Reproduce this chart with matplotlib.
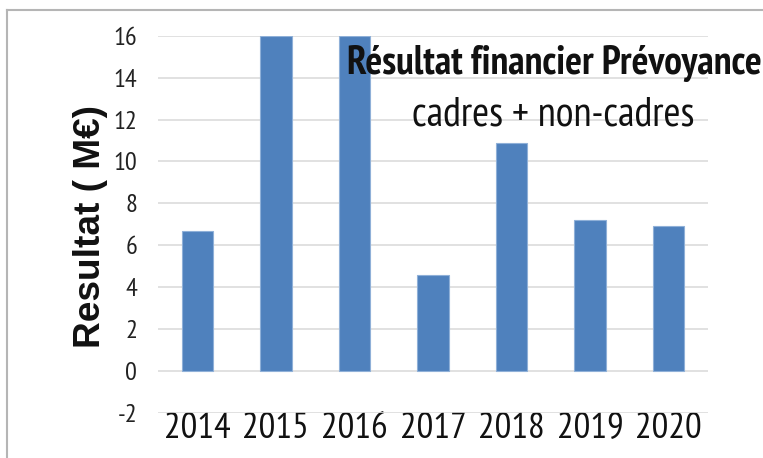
import matplotlib
matplotlib.use("Agg")
import matplotlib.pyplot as plt
from matplotlib.lines import Line2D
from matplotlib import font_manager
from matplotlib.textpath import TextPath
from matplotlib.font_manager import FontProperties

years = ["2014", "2015", "2016", "2017", "2018", "2019", "2020"]
values = [6.7, 16.0, 16.0, 4.6, 10.9, 7.2, 6.9]
yticks = [-2, 0, 2, 4, 6, 8, 10, 12, 14, 16]
ylabel = "Resultat ( M€)"
title1 = "Résultat financier Prévoyance"
title2 = "cadres + non-cadres"

available = {f.name for f in font_manager.fontManager.ttflist}
candidates = ["PT Sans Narrow", "Fira Sans Condensed", "Open Sans Condensed",
              "Roboto Condensed", "Archivo Narrow", "Barlow Semi Condensed",
              "Sofia Sans Semi Condensed", "DejaVu Sans"]
narrow = next(c for c in candidates if c in available)


def fit_size(text, family, weight, target_px):
    fp = FontProperties(family=family, weight=weight, size=10)
    w = TextPath((0, 0), text, prop=fp).get_extents().width  # in points at 10pt
    w_px = w * 100 / 72
    return 10 * target_px / w_px


W, H = 763, 458
fig = plt.figure(figsize=(W / 100, H / 100), dpi=100)
ax = fig.add_axes([158 / W, 1 - 413 / H, 550 / W, (413 - 35.7) / H])

x = list(range(len(years)))
ax.bar(x, values, width=0.4, color="#4F81BD", edgecolor="#8fb0d8", linewidth=0.8, zorder=3)
ax.set_xlim(-0.5, len(years) - 0.5)
ax.set_ylim(-2, 16)
ax.set_yticks(yticks)
ax.set_yticklabels([str(v) for v in yticks], fontfamily=narrow,
                   fontsize=fit_size("16", narrow, "normal", 21))
ax.set_xticks(x)
ax.set_xticklabels(years, fontfamily=narrow, fontsize=fit_size("2014", narrow, "normal", 64))
ax.tick_params(axis="y", length=0, pad=15, colors="#222222")
ax.tick_params(axis="x", length=0, pad=-1, colors="#111111")
ax.grid(axis="y", color="#dcdcdc", linewidth=1.2, zorder=0)
for s in ax.spines.values():
    s.set_visible(False)

fig.text(90 / W, 1 - 226 / H, ylabel, rotation=90, ha="center", va="center",
         fontfamily="Liberation Sans", fontweight="bold",
         fontsize=fit_size(ylabel, "Liberation Sans", "bold", 238), color="#111111")

fig.text(554 / W, 1 - 74 / H, title1, ha="center", va="baseline",
         fontfamily=narrow, fontweight=600,
         fontsize=fit_size(title1, narrow, 600, 412), color="#111111", zorder=5)
fig.text(553 / W, 1 - 126 / H, title2, ha="center", va="baseline",
         fontfamily=narrow, fontsize=fit_size(title2, narrow, "normal", 280),
         color="#111111", zorder=5)

# figure border (top and left visible)
fig.add_artist(Line2D([7 / W, 1], [1 - 10 / H, 1 - 10 / H], transform=fig.transFigure,
                      color="#b5b5b5", linewidth=1.5))
fig.add_artist(Line2D([7 / W, 7 / W], [0, 1 - 10 / H], transform=fig.transFigure,
                      color="#b5b5b5", linewidth=1.5))

fig.savefig("out.png", dpi=100)
